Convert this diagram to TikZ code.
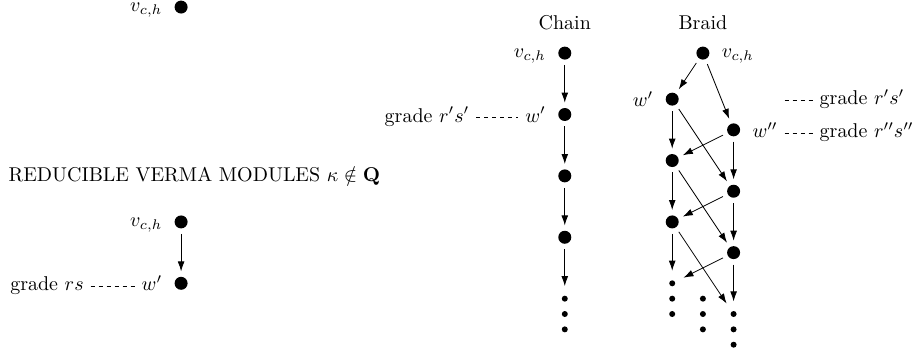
\documentclass[tikz,border=0pt]{standalone}
\usetikzlibrary{arrows.meta, positioning}

\begin{document}
\begin{tikzpicture}[
    x=0.54cm, y=0.54cm,
    node distance=0pt,
    dot/.style={circle, fill, minimum size=6.5pt, inner sep=0pt, outer sep=2.7pt},
    sdot/.style={circle, fill, minimum size=3pt, inner sep=0pt, outer sep=4.8pt},
    vlab/.style={yshift=-1.5pt},
    arr/.style={-{Latex[length=5pt, width=3.4pt]}},
    lvl/.style={dash pattern=on 2pt off 2pt}
]
\useasboundingbox (-5.9,1.73) rectangle (24.04,-9.8);

% single module and the reducible case
\node[dot] (top) at (0,1.5) {};
\node[vlab, left=of top] (topv) {$v_{c,h}$};
\node[anchor=west] (title) at (-5.85,-4) {REDUCIBLE VERMA MODULES $\kappa\notin\mathbf{Q}$};
\node[dot] (lv) at (0,-5.5) {};
\node[dot] (lw) at (0,-7.5) {};
\node[vlab, left=of lv] (lvv) {$v_{c,h}$};
\node[left=of lw] (lww) {$w'$};
\node[base left=22pt of lww] (lg) {grade $rs$};
\draw[arr] (lv) -- (lw);
\draw[lvl] (lg.mid east) -- (lww.mid west);

% chain
\node at (12.5,1) (chain) {Chain};
\node[dot] (c0) at (12.5,0) {};
\node[dot] (c1) at (12.5,-2) {};
\node[dot] (c2) at (12.5,-4) {};
\node[dot] (c3) at (12.5,-6) {};
\node[sdot] (cd1) at (12.5,-8) {};
\node[sdot] (cd2) at (12.5,-8.5) {};
\node[sdot] (cd3) at (12.5,-9) {};
\node[vlab, left=of c0] (c0v) {$v_{c,h}$};
\node[left=of c1] (c1w) {$w'$};
\node[base left=21pt of c1w] (c1g) {grade $r's'$};
\draw[lvl] (c1g.mid east) -- (c1w.mid west);
\draw[arr] (c0) -- (c1);
\draw[arr] (c1) -- (c2);
\draw[arr] (c2) -- (c3);
\draw[arr] (c3) -- (cd1);

% braid
\node at (17,1) (braid) {Braid};
\node[dot] (b0) at (17,0) {};
\node[dot] (bl1) at (16,-1.5) {};
\node[dot] (br1) at (18,-2.5) {};
\node[dot] (bl2) at (16,-3.5) {};
\node[dot] (br2) at (18,-4.5) {};
\node[dot] (bl3) at (16,-5.5) {};
\node[dot] (br3) at (18,-6.5) {};
\node[sdot] (ld1) at (16,-7.5) {};
\node[sdot] (ld2) at (16,-8) {};
\node[sdot] (ld3) at (16,-8.5) {};
\node[sdot] (md1) at (17,-8) {};
\node[sdot] (md2) at (17,-8.5) {};
\node[sdot] (md3) at (17,-9) {};
\node[sdot] (rd1) at (18,-8.5) {};
\node[sdot] (rd2) at (18,-9) {};
\node[sdot] (rd3) at (18,-9.5) {};
\node[vlab, right=of b0] (b0v) {$v_{c,h}$};
\node[left=of bl1] (bl1w) {$w'$};
\node[right=of br1] (br1w) {$w''$};
\node[base right=14pt of br1w] (br1g) {grade $r''s''$};
\node[anchor=west] (bl1g) at (br1g.west |- bl1) {grade $r's'$};
\coordinate (bl1c) at (br1w.east |- bl1g.mid west);
\draw[lvl] (br1w.mid east) -- (br1g.mid west);
\draw[lvl] (bl1c) -- (bl1g.mid west);
\draw[arr] (b0) -- (bl1);
\draw[arr] (b0) -- (br1);
\draw[arr] (bl1) -- (bl2);
\draw[arr] (bl1) -- (br2);
\draw[arr] (br1) -- (bl2);
\draw[arr] (br1) -- (br2);
\draw[arr] (bl2) -- (bl3);
\draw[arr] (bl2) -- (br3);
\draw[arr] (br2) -- (bl3);
\draw[arr] (br2) -- (br3);
\draw[arr] (bl3) -- (ld1);
\draw[arr] (bl3) -- (rd1);
\draw[arr] (br3) -- (ld1);
\draw[arr] (br3) -- (rd1);
\end{tikzpicture}
\end{document}
